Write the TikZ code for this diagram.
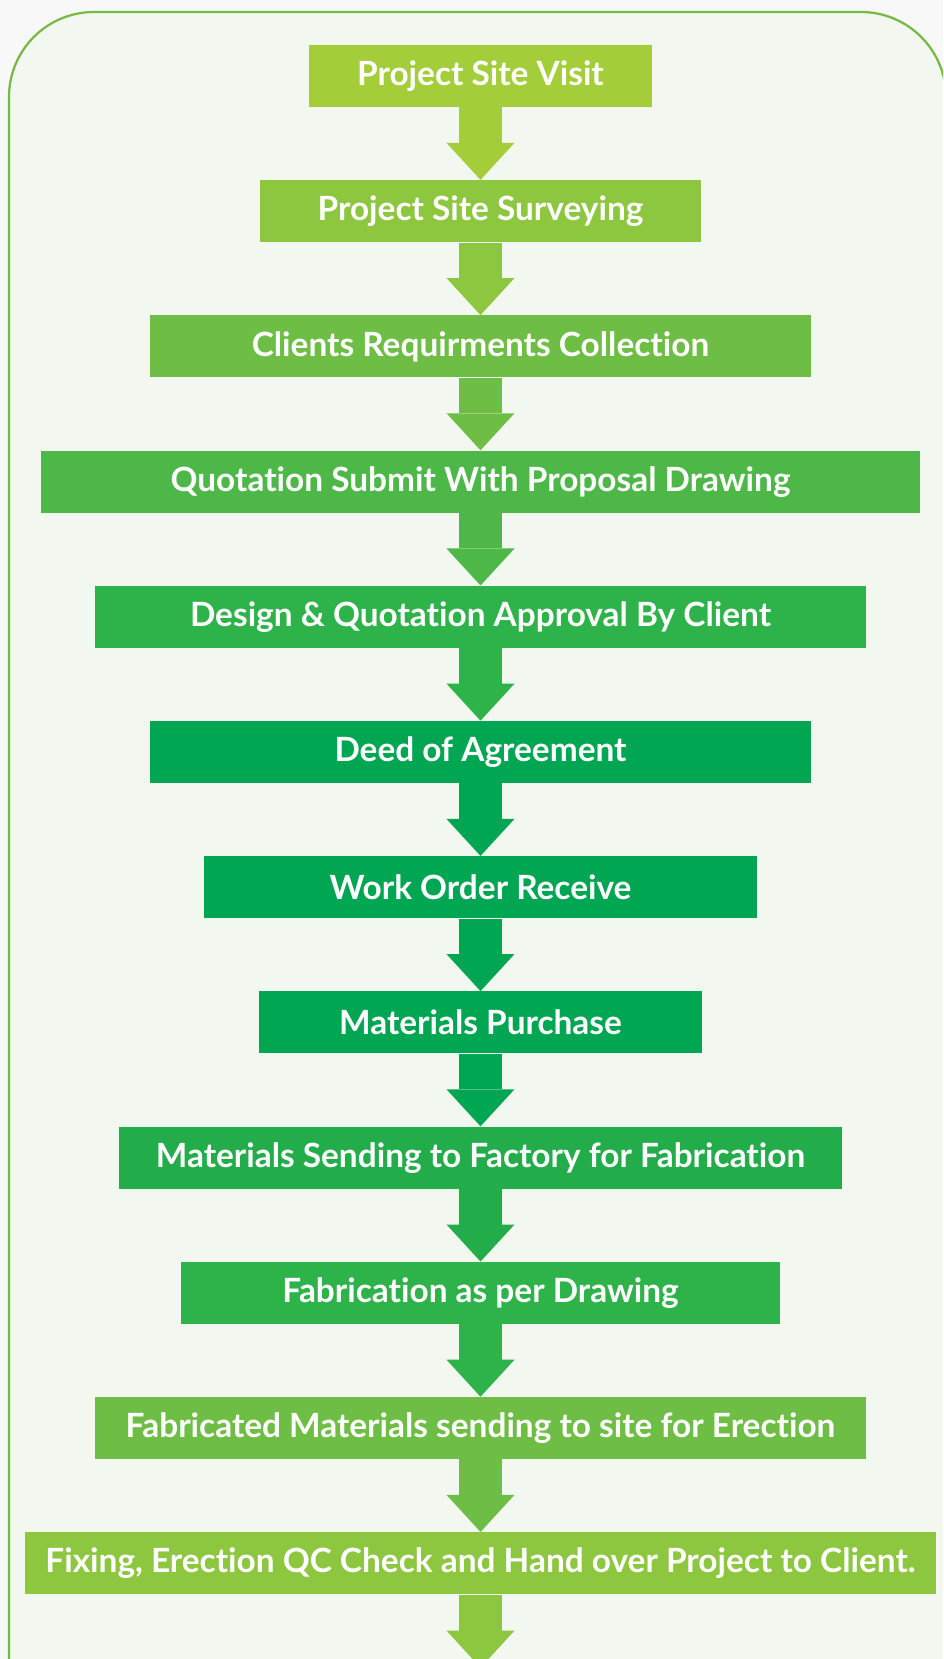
\documentclass[tikz,border=0pt]{standalone}
\usepackage{fontspec}
\setsansfont{Lato}[RawFeature={-liga,-dlig}]
\usepackage{xcolor}
\usepackage{tikz}
\usetikzlibrary{arrows.meta,positioning}
\definecolor{flLime}{HTML}{A3CD39}
\definecolor{flLeaf}{HTML}{8DC63F}
\definecolor{flGrass}{HTML}{6EBE45}
\definecolor{flMid}{HTML}{4DB848}
\definecolor{flFern}{HTML}{2EB34A}
\definecolor{flDeep}{HTML}{00A651}
\definecolor{flSea}{HTML}{22AD4A}
\definecolor{flFrame}{HTML}{78B946}
\definecolor{flPanel}{HTML}{F2F7EF}
\definecolor{flPage}{HTML}{F8F8F8}
\tikzset{
  fl diagram/.style={font=\sffamily\bfseries\fontsize{19}{22}\selectfont,
    text=white, x=0.2mm, y=-0.2mm},
  fl box/.style={fill=#1, minimum height=12.4mm, inner sep=0pt,
    align=center},
  fl arrow/.style={draw=#1, line width=8.6mm,
    -{Triangle[length=7.4mm,width=13.6mm,line width=0pt]}},
  fl frame/.style={draw=flFrame, fill=flPanel, line width=0.45mm,
    rounded corners=17mm}
}

\begin{document}
\begin{tikzpicture}[fl diagram, node distance=14.5mm]
\useasboundingbox (0,0) rectangle (943,1659);
\clip (0,0) rectangle (943,1659);
\fill[flPage] (0,0) rectangle (943,1659);
\draw[fl frame] (9,1720) -- (9,12) -- (946,12) -- (946,1720);

% process steps
\node[fl box=flLime, minimum width=68.6mm] (visit) at (480.5,76) {Project Site Visit};
\node[fl box=flLeaf, minimum width=88mm, below=of visit] (survey) {Project Site Surveying};
\node[fl box=flGrass, minimum width=132.2mm, below=of survey] (needs) {Clients Requirments Collection};
\node[fl box=flMid, minimum width=175.8mm, below=of needs] (quote) {Quotation Submit With Proposal Drawing};
\node[fl box=flFern, minimum width=154mm, below=of quote] (approve) {Design \& Quotation Approval By Client};
\node[fl box=flDeep, minimum width=132.2mm, below=of approve] (deed) {Deed of Agreement};
\node[fl box=flDeep, minimum width=110.4mm, below=of deed] (order) {Work Order Receive};
\node[fl box=flDeep, minimum width=88.4mm, below=of order] (buy) {Materials Purchase};
\node[fl box=flSea, minimum width=144.6mm, below=of buy] (factory) {Materials Sending to Factory for Fabrication};
\node[fl box=flFern, minimum width=119.6mm, below=of factory] (fabricate) {Fabrication as per Drawing};
\node[fl box=flGrass, minimum width=154mm, below=of fabricate] (ship) {Fabricated Materials sending to site for Erection};
\node[fl box=flLeaf, minimum width=182.2mm, below=of ship] (handover) {Fixing, Erection QC Check and Hand over Project to Client.};
\coordinate[below=14.6mm of handover] (out);

% connectors
\draw[fl arrow=flLime] (visit) -- (survey);
\draw[fl arrow=flLeaf] (survey) -- (needs);
\draw[fl arrow=flGrass] (needs) -- (quote);
\draw[fl arrow=flMid] (quote) -- (approve);
\draw[fl arrow=flFern] (approve) -- (deed);
\draw[fl arrow=flDeep] (deed) -- (order);
\draw[fl arrow=flDeep] (order) -- (buy);
\draw[fl arrow=flDeep] (buy) -- (factory);
\draw[fl arrow=flSea] (factory) -- (fabricate);
\draw[fl arrow=flFern] (fabricate) -- (ship);
\draw[fl arrow=flGrass] (ship) -- (handover);
\draw[fl arrow=flLeaf] (handover) -- (out);
\end{tikzpicture}
\end{document}
